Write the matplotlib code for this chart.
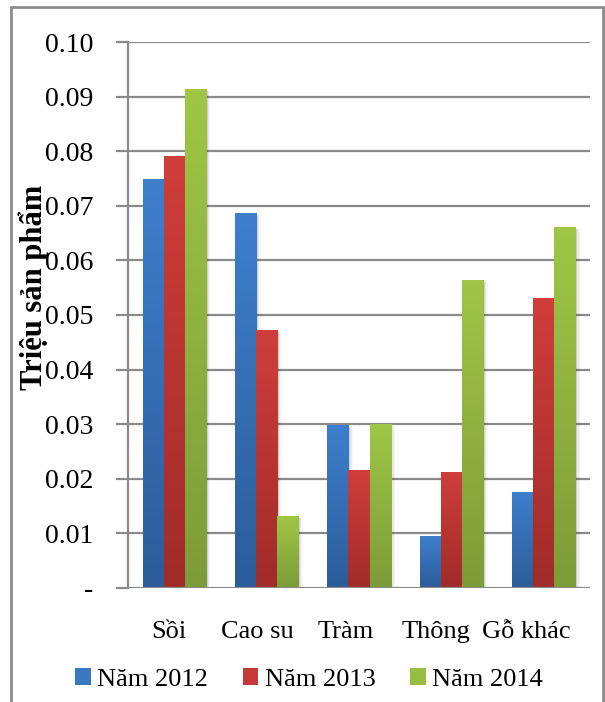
import numpy as np
import matplotlib
matplotlib.use("Agg")
import matplotlib.pyplot as plt
import matplotlib.transforms as mtransforms
from matplotlib.patches import Rectangle, Patch
from matplotlib.colors import LinearSegmentedColormap

# --- données ---
categories = ["Sồi", "Cao su", "Tràm", "Thông", "Gỗ khác"]
series = ["Năm 2012", "Năm 2013", "Năm 2014"]
nam_2012 = [0.0748, 0.0686, 0.0298, 0.0094, 0.0175]
nam_2013 = [0.0790, 0.0472, 0.0215, 0.0212, 0.0530]
nam_2014 = [0.0913, 0.0131, 0.0300, 0.0563, 0.0660]
yticks = [0, 0.01, 0.02, 0.03, 0.04, 0.05, 0.06, 0.07, 0.08, 0.09, 0.10]
ytick_labels = ["-", "0.01", "0.02", "0.03", "0.04", "0.05", "0.06", "0.07", "0.08", "0.09", "0.10"]

# couleurs dégradées (haut clair -> bas foncé)
couleurs = [("#3d7fcd", "#2c5c99"), ("#cf3e3b", "#a02b29"), ("#9fc646", "#7d9c38")]
legend_colors = ["#3a78c2", "#c43a37", "#98bd43"]

plt.rcParams["font.family"] = ["Liberation Serif", "DejaVu Serif"]

fig = plt.figure(figsize=(6.05, 7.02), dpi=100)
W, H = 605, 702

# cadre gris autour du graphique
fig.patches.append(Rectangle((11 / W, -0.05), (603 - 11) / W, (H - 7) / H + 0.05,
                             transform=fig.transFigure, fill=False,
                             edgecolor="#8c8c8c", linewidth=2, clip_on=False))

ax = fig.add_axes([128 / W, (H - 588) / H, 462 / W, 546 / H])

x = np.arange(len(categories))
bw = 0.228
valeurs = [nam_2012, nam_2013, nam_2014]

for k, vals in enumerate(valeurs):
    cmap = LinearSegmentedColormap.from_list("g%d" % k, [couleurs[k][1], couleurs[k][0]])
    for i, v in enumerate(vals):
        x0 = x[i] + (k - 1) * bw - bw / 2
        # ombre légère à droite
        for s, a in [(0.02, 0.10), (0.035, 0.06), (0.05, 0.03)]:
            ax.add_patch(Rectangle((x0 + s, 0), bw, v - 0.0003, facecolor="#000000",
                                   alpha=a, linewidth=0, zorder=2 + k * 0.1))
        grad = np.linspace(0, 1, 100).reshape(-1, 1)
        ax.imshow(grad, cmap=cmap, origin="lower", aspect="auto",
                  extent=[x0, x0 + bw, 0, v], zorder=3 + k * 0.1)

ax.set_xlim(-0.5, len(categories) - 0.5)
ax.set_ylim(0, 0.10)

# grille horizontale
for t in yticks[1:]:
    ax.axhline(t, color="#8a8a8a", linewidth=1.6, zorder=1)
ax.axhline(0, color="#8a8a8a", linewidth=1.6, zorder=5)

for side in ["top", "right", "bottom"]:
    ax.spines[side].set_visible(False)
ax.spines["left"].set_color("#8a8a8a")
ax.spines["left"].set_linewidth(1.6)

ax.set_yticks(yticks)
ax.set_yticklabels(ytick_labels, fontsize=20)
ax.tick_params(axis="y", length=9, width=1.6, color="#8a8a8a", pad=16)
ax.set_xticks(x)
ax.set_xticklabels(categories, fontsize=19)
ax.tick_params(axis="x", length=0, pad=24)

# les libellés de catégorie glissent un peu vers la gauche
decalages = [-5, -9, -13, -15, -17]
for lab, d in zip(ax.get_xticklabels(), decalages):
    lab.set_transform(lab.get_transform() +
                      mtransforms.ScaledTranslation(d / 100, 0, fig.dpi_scale_trans))

ax.set_ylabel("Triệu sản phẩm", fontsize=22, fontweight="bold")
ax.yaxis.set_label_coords(-0.171, 0.55)

handles = [Patch(facecolor=c, edgecolor="none") for c in legend_colors]
ax.legend(handles, series, loc="upper center", bbox_to_anchor=(0.392, -0.127),
          ncol=3, frameon=False, fontsize=19, handlelength=0.6, handleheight=0.6,
          handletextpad=0.25, columnspacing=1.3, borderaxespad=0)

fig.savefig("out.png", dpi=100)
